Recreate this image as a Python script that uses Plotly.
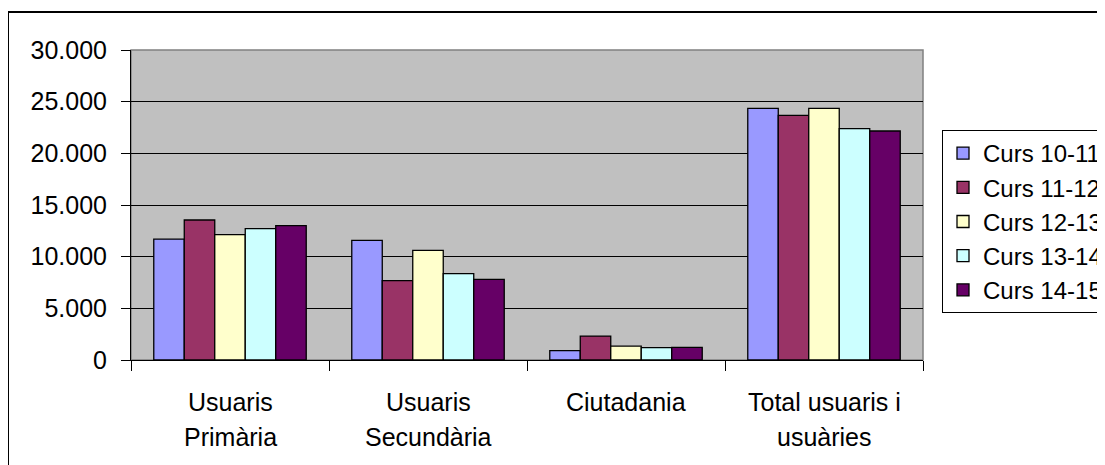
import plotly.graph_objects as go

categories = ["Usuaris Primària", "Usuaris Secundària", "Ciutadania", "Total usuaris i usuàries"]
category_lines = [["Usuaris", "Primària"], ["Usuaris", "Secundària"], ["Ciutadania"], ["Total usuaris i", "usuàries"]]
series_names = ["Curs 10-11", "Curs 11-12", "Curs 12-13", "Curs 13-14", "Curs 14-15"]
curs_10_11 = [11700, 11580, 900, 24350]
curs_11_12 = [13550, 7680, 2320, 23680]
curs_12_13 = [12130, 10610, 1350, 24350]
curs_13_14 = [12710, 8360, 1190, 22390]
curs_14_15 = [13000, 7810, 1230, 22160]
series_values = [curs_10_11, curs_11_12, curs_12_13, curs_13_14, curs_14_15]
colors = ["#9999FF", "#993366", "#FFFFCC", "#CCFFFF", "#660066"]
y_ticks = [0, 5000, 10000, 15000, 20000, 25000, 30000]

FONT = "Liberation Sans, Arial, sans-serif"
OFF = 8  # page body margin
W, H = 1105 - OFF, 465 - OFF
# plot area in page pixels
L, R, T, B = 131, 923, 50, 360

fig = go.Figure()
for name, vals, col in zip(series_names, series_values, colors):
    fig.add_trace(go.Bar(
        x=categories, y=vals, name=name,
        marker=dict(color=col, line=dict(color="black", width=1.3)),
    ))

pw, ph = R - L, B - T
def px_x(x):
    return (x - L) / pw
def px_y(y):
    return (B - y) / ph

annotations = []
for cat, lines in zip(categories, category_lines):
    for i, line in enumerate(lines):
        annotations.append(dict(
            x=cat, xref="x", y=px_y(401.5 + 35 * i), yref="paper",
            text=line, showarrow=False, xanchor="center", yanchor="middle",
            font=dict(family=FONT, size=25, color="black"),
        ))

fig.update_layout(
    width=W, height=H,
    margin=dict(l=L - OFF, r=W - (R - OFF), t=T - OFF, b=H - (B - OFF), pad=0,
                autoexpand=False),
    paper_bgcolor="white",
    plot_bgcolor="#C0C0C0",
    barmode="group",
    bargap=0.23,
    bargroupgap=0,
    separators=",.",
    font=dict(family=FONT, size=25, color="black"),
    showlegend=True,
    legend=dict(
        x=px_x(942), xanchor="left", y=px_y(130), yanchor="top",
        bordercolor="black", borderwidth=1, bgcolor="white",
        font=dict(family=FONT, size=24, color="black"),
        itemwidth=30,
    ),
    xaxis=dict(
        showticklabels=False,
        tickson="boundaries", ticks="outside", ticklen=10, tickcolor="black",
        showline=True, linecolor="black", linewidth=1,
        showgrid=False, zeroline=False,
        automargin=False,
    ),
    yaxis=dict(
        range=[0, 30000], tickvals=y_ticks, tickformat=",d",
        ticks="outside", ticklen=9, tickcolor="black",
        ticklabelstandoff=9,
        showline=True, linecolor="black", linewidth=1,
        showgrid=True, gridcolor="black", gridwidth=1,
        zeroline=False, automargin=False,
        tickfont=dict(family=FONT, size=25, color="black"),
    ),
    annotations=annotations,
    shapes=[
        dict(type="rect", xref="paper", yref="paper", x0=0, x1=1, y0=0, y1=1,
             line=dict(color="#808080", width=1.5), layer="below"),
        dict(type="rect", xref="paper", yref="paper",
             x0=px_x(8), x1=px_x(1112), y0=px_y(472), y1=px_y(12),
             line=dict(color="black", width=2)),
    ],
)

fig.write_html("out.html")
